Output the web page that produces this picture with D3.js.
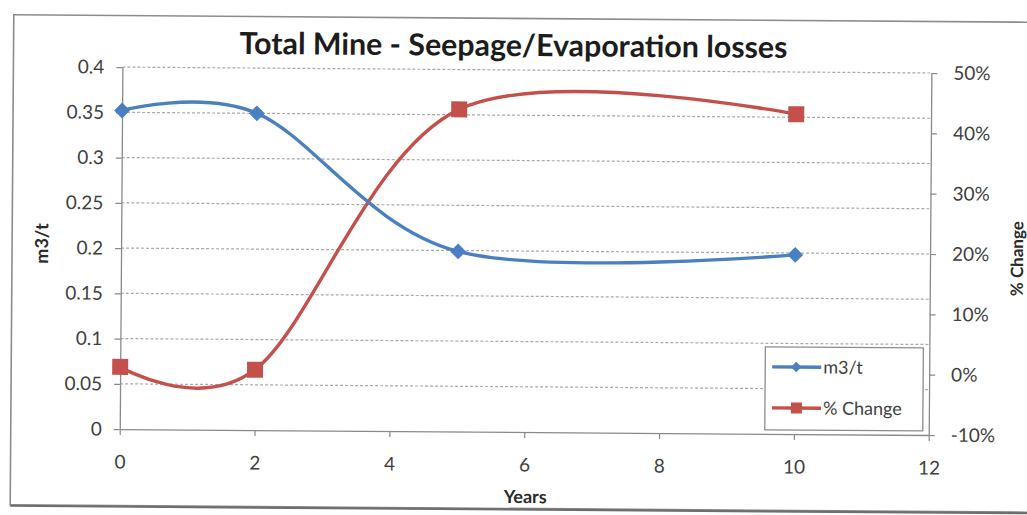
<!DOCTYPE html>
<html>
<head>
<meta charset="utf-8">
<script src="https://cdn.jsdelivr.net/npm/d3@7"></script>
<style>
  html, body { margin: 0; padding: 0; background: #ffffff; }
  svg { display: block; }
  text { font-family: Lato, "Open Sans", "DejaVu Sans", sans-serif; }
</style>
</head>
<body>
<svg id="chart" width="1027" height="515"></svg>
<script>
// ---- data ----
const years = [0, 2, 5, 10];
const m3PerT = [0.352, 0.350, 0.199, 0.198];
const pctChange = [0.3, 0.0, 43.4, 43.0];   // percent
const xTicks = [0, 2, 4, 6, 8, 10, 12];
const leftTicks = [0, 0.05, 0.1, 0.15, 0.2, 0.25, 0.3, 0.35, 0.4];
const rightTicks = [-10, 0, 10, 20, 30, 40, 50];
const titleText = "Total Mine - Seepage/Evaporation losses";
const xTitle = "Years";
const yLeftTitle = "m3/t";
const yRightTitle = "% Change";
const seriesNames = ["m3/t", "% Change"];

// ---- layout ----
const W = 1027, H = 515;
const plot = { left: 121, right: 930, top: 70, bottom: 432 };
const blue = "#4a7fc1", red = "#c4504c";
const axisColor = "#8a8a8a", labelColor = "#3f3f3f";

const svg = d3.select("#chart");
svg.append("rect").attr("width", W).attr("height", H).attr("fill", "#ffffff");

// the scanned chart is slightly tilted
const g = svg.append("g").attr("transform", "rotate(0.42, 520, 260)");

// chart frame
g.append("rect")
  .attr("x", 12).attr("y", 18.5).attr("width", 1100).attr("height", 490)
  .attr("fill", "#ffffff").attr("stroke", "#8c8c8c").attr("stroke-width", 1.6);
g.append("line").attr("x1", 12).attr("x2", 1112).attr("y1", 509.5).attr("y2", 509.5)
  .attr("stroke", "#6e6e6e").attr("stroke-width", 2.2);

const x = d3.scaleLinear().domain([0, 12]).range([plot.left, plot.right]);
const yL = d3.scaleLinear().domain([0, 0.4]).range([plot.bottom, plot.top]);
const yR = d3.scaleLinear().domain([-10, 50]).range([plot.bottom, plot.top]);

// gridlines (primary axis)
g.append("g").selectAll("line").data(leftTicks.filter(d => d > 0)).join("line")
  .attr("x1", plot.left).attr("x2", plot.right)
  .attr("y1", d => yL(d)).attr("y2", d => yL(d))
  .attr("stroke", "#a9a9a9").attr("stroke-width", 1.2).attr("stroke-dasharray", "3,2");

function styleAxis(sel) {
  sel.select(".domain").attr("stroke", axisColor).attr("stroke-width", 1.3);
  sel.selectAll(".tick line").attr("stroke", axisColor).attr("stroke-width", 1.2);
  sel.selectAll(".tick text").attr("fill", labelColor)
    .style("font-family", "Lato, sans-serif").style("font-size", "19px");
}

// axes
const gx = g.append("g").attr("transform", `translate(0,${plot.bottom})`)
  .call(d3.axisBottom(x).tickValues(xTicks).tickSize(6).tickSizeOuter(0).tickPadding(20).tickFormat(d3.format("~g")));
styleAxis(gx);
const gl = g.append("g").attr("transform", `translate(${plot.left},0)`)
  .call(d3.axisLeft(yL).tickValues(leftTicks).tickSize(6).tickSizeOuter(0).tickPadding(12).tickFormat(d3.format("~g")));
styleAxis(gl);
const gr = g.append("g").attr("transform", `translate(${plot.right},0)`)
  .call(d3.axisRight(yR).tickValues(rightTicks).tickSize(6).tickSizeOuter(0).tickPadding(16).tickFormat(d => d + "%"));
styleAxis(gr);

// series
const blueData = years.map((d, i) => [d, m3PerT[i]]);
const redData = years.map((d, i) => [d, pctChange[i]]);
const curve = d3.curveCardinal.tension(0);

g.append("path").datum(redData)
  .attr("fill", "none").attr("stroke", red).attr("stroke-width", 3.4)
  .attr("d", d3.line().x(d => x(d[0])).y(d => yR(d[1])).curve(curve));
g.append("path").datum(blueData)
  .attr("fill", "none").attr("stroke", blue).attr("stroke-width", 3.4)
  .attr("d", d3.line().x(d => x(d[0])).y(d => yL(d[1])).curve(curve));

g.append("g").selectAll("path").data(blueData).join("path")
  .attr("transform", d => `translate(${x(d[0])},${yL(d[1])}) rotate(45)`)
  .attr("d", d3.symbol().type(d3.symbolSquare).size(125)())
  .attr("fill", blue);
g.append("g").selectAll("rect").data(redData).join("rect")
  .attr("x", d => x(d[0]) - 8).attr("y", d => yR(d[1]) - 8)
  .attr("width", 16).attr("height", 16).attr("fill", red);

// title, fitted to the reference width
const title = g.append("text").attr("x", 512).attr("y", 56).attr("text-anchor", "middle")
  .style("font-size", "28px").style("font-weight", "700").attr("fill", "#1c1c1c")
  .text(titleText);
const tw = title.node().getComputedTextLength();
if (tw > 0) title.style("font-size", (28 * 548 / tw).toFixed(2) + "px");

// axis titles
g.append("text").attr("x", 527).attr("y", 503).attr("text-anchor", "middle")
  .style("font-size", "18px").style("font-weight", "700").attr("fill", "#2a2a2a")
  .text(xTitle);
g.append("text").attr("transform", "translate(48,247) rotate(-90)").attr("text-anchor", "middle")
  .style("font-size", "18px").style("font-weight", "700").attr("fill", "#2a2a2a")
  .text(yLeftTitle);
g.append("text").attr("transform", "translate(1023,255) rotate(-90)").attr("text-anchor", "middle")
  .style("font-size", "17px").style("font-weight", "700").attr("fill", "#2a2a2a")
  .text(yRightTitle);

// legend
const lg = g.append("g").attr("transform", "translate(766,345)");
lg.append("rect").attr("width", 158).attr("height", 83)
  .attr("fill", "#ffffff").attr("stroke", "#8c8c8c").attr("stroke-width", 1.3);
const legendRows = [
  { name: seriesNames[0], color: blue, shape: "diamond", y: 20 },
  { name: seriesNames[1], color: red, shape: "square", y: 61 }
];
legendRows.forEach(r => {
  lg.append("line").attr("x1", 7).attr("x2", 56).attr("y1", r.y).attr("y2", r.y)
    .attr("stroke", r.color).attr("stroke-width", 3.4);
  if (r.shape === "diamond") {
    lg.append("path").attr("transform", `translate(31,${r.y}) rotate(45)`)
      .attr("d", d3.symbol().type(d3.symbolSquare).size(55)()).attr("fill", r.color);
  } else {
    lg.append("rect").attr("x", 26).attr("y", r.y - 5.5).attr("width", 11).attr("height", 11).attr("fill", r.color);
  }
  lg.append("text").attr("x", 58).attr("y", r.y).attr("dy", "0.35em")
    .style("font-size", "18px").attr("fill", labelColor).text(r.name);
});
</script>
</body>
</html>
